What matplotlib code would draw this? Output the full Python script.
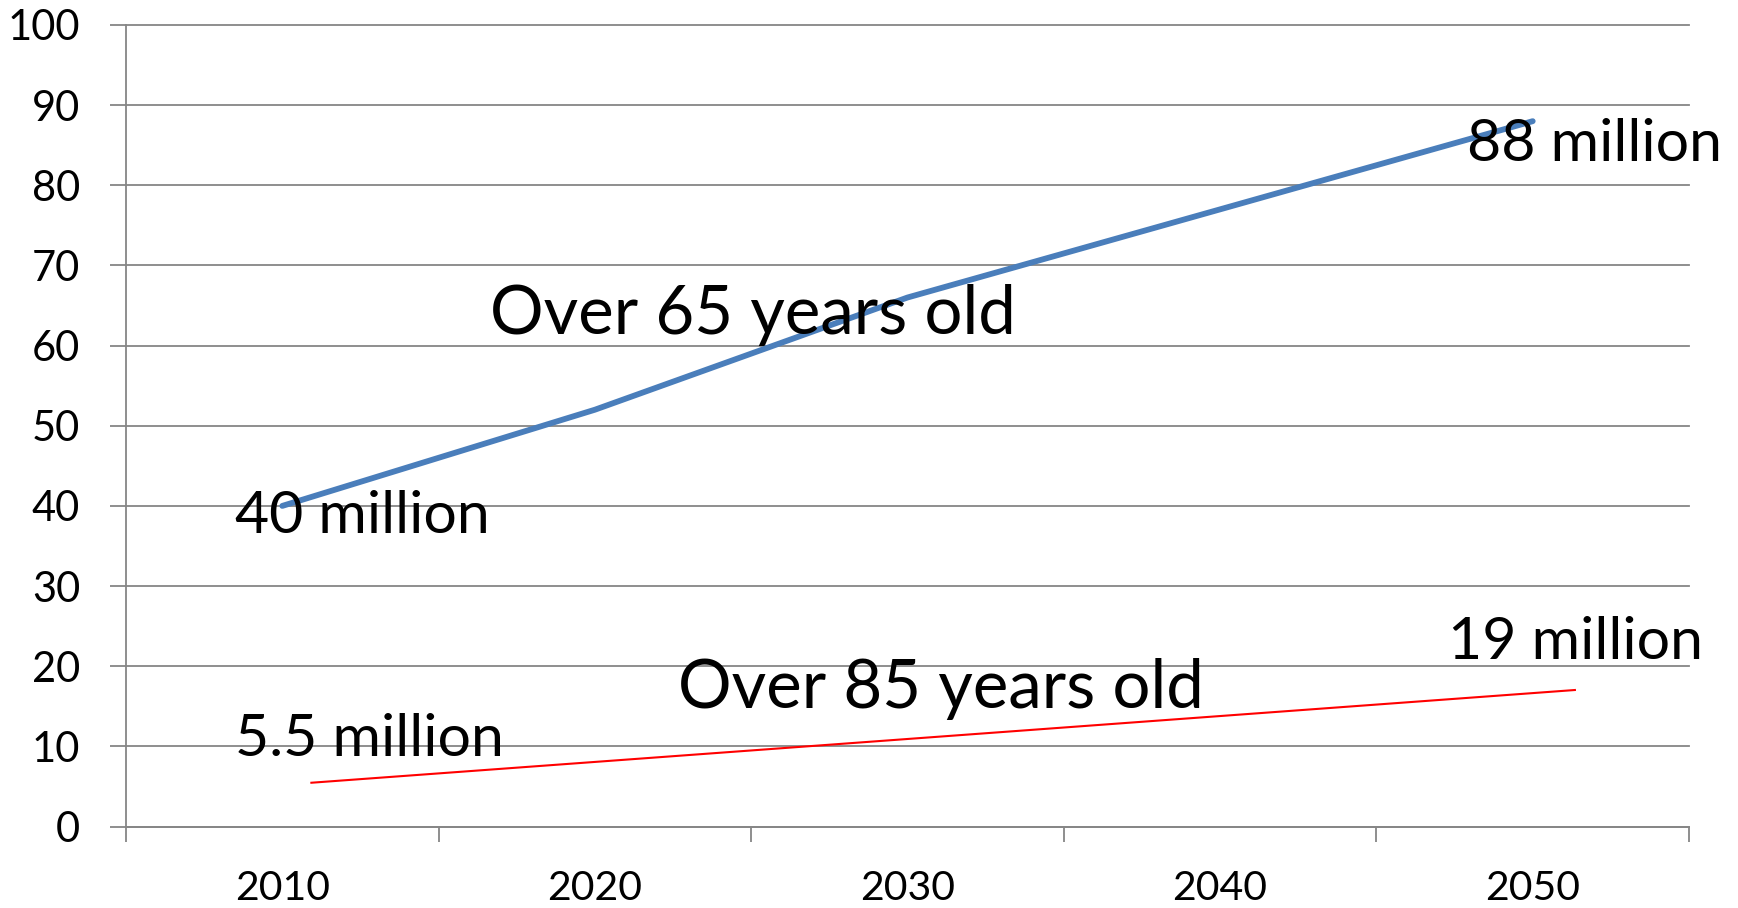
import matplotlib
matplotlib.use("Agg")
import matplotlib.pyplot as plt
import numpy as np

plt.rcParams['font.family'] = ['Lato', 'DejaVu Sans']

# ---- data ----
years = [2010, 2020, 2030, 2040, 2050]
over65 = [40, 52, 66, 77, 88]
# the over-85 line is drawn as a simple straight segment in the original
over85_x = [2010.93, 2051.35]
over85_y = [5.46, 17.03]
yticks = list(range(0, 101, 10))
xtick_labels = ["2010", "2020", "2030", "2040", "2050"]

label_texts = ["40 million", "88 million", "5.5 million", "19 million"]
label_x = [2008.5, 2047.9, 2008.5, 2047.3]
label_y = [36.6, 83.0, 8.8, 20.9]
series_names = ["Over 65 years old", "Over 85 years old"]
series_name_x = [2016.65, 2022.65]
series_name_y = [61.4, 14.8]

grid_color = "#868686"
blue = "#4A7EBB"
red = "#FF0000"

fig = plt.figure(figsize=(17.38, 9.08), dpi=100)
ax = fig.add_axes([126/1738, 81.5/908, 1563/1738, 801.5/908])

ax.plot(years, over65, color=blue, lw=4.2, solid_capstyle='round', zorder=3)
ax.plot(over85_x, over85_y, color=red, lw=1.5, zorder=3)

ax.set_xlim(2005, 2055)
ax.set_ylim(0, 100)

ax.set_yticks(yticks)
ax.set_yticklabels([str(v) for v in yticks])
ax.set_xticks(years)
ax.set_xticklabels(xtick_labels)
ax.set_xticks(np.arange(2005, 2056, 10), minor=True)

ax.tick_params(axis='y', which='major', length=11.5, width=1.3, color=grid_color,
               labelsize=30, pad=21.5, labelcolor='black')
ax.tick_params(axis='x', which='major', length=0, labelsize=29.5, pad=31, labelcolor='black')
ax.tick_params(axis='x', which='minor', length=11, width=1.3, color=grid_color)

ax.yaxis.grid(True, color=grid_color, lw=1.3)
for gl in ax.get_ygridlines():
    gl.set_clip_on(False)
ax.set_axisbelow(True)

for s in ['top', 'right']:
    ax.spines[s].set_visible(False)
for s in ['left', 'bottom']:
    ax.spines[s].set_color(grid_color)
    ax.spines[s].set_linewidth(1.3)

for t, x, y in zip(label_texts, label_x, label_y):
    ax.text(x, y, t, fontsize=42.5, ha='left', va='baseline', color='black', zorder=4)
for t, x, y in zip(series_names, series_name_x, series_name_y):
    ax.text(x, y, t, fontsize=48.3, ha='left', va='baseline', color='black', zorder=4)

fig.savefig("out.png", dpi=100)
